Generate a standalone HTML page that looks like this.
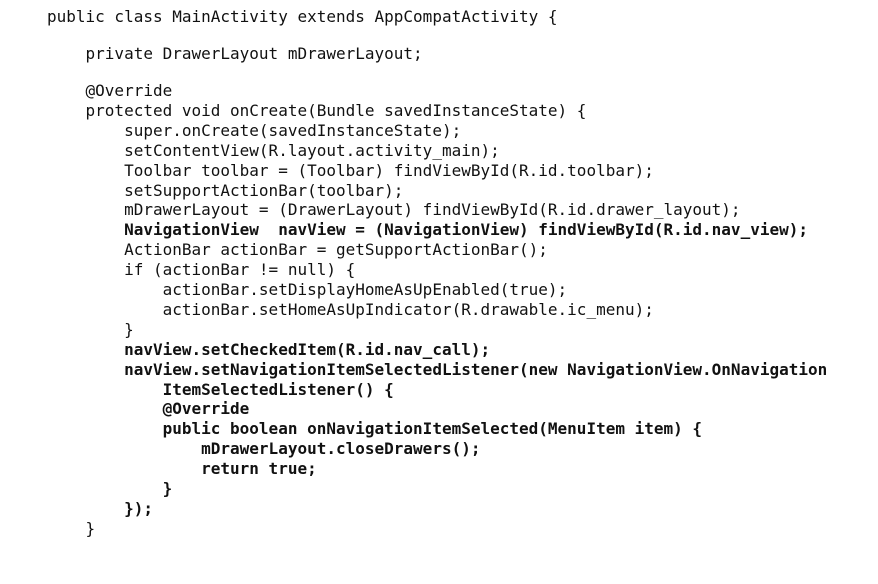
<!DOCTYPE html>
<html><head><meta charset="utf-8"><style>
html,body{margin:0;padding:0;background:#fff;width:878px;height:584px;overflow:hidden}
.l{position:absolute;left:47px;font-family:"DejaVu Sans Mono","Liberation Mono",monospace;font-size:16px;line-height:20px;height:20px;color:#111;white-space:pre}
b{font-weight:bold}
</style></head><body>
<div class="l" style="top:7px">public class MainActivity extends AppCompatActivity {</div>
<div class="l" style="top:44px">    private DrawerLayout mDrawerLayout;</div>
<div class="l" style="top:81px">    @Override</div>
<div class="l" style="top:100.9px">    protected void onCreate(Bundle savedInstanceState) {</div>
<div class="l" style="top:120.8px">        super.onCreate(savedInstanceState);</div>
<div class="l" style="top:140.7px">        setContentView(R.layout.activity_main);</div>
<div class="l" style="top:160.6px">        Toolbar toolbar = (Toolbar) findViewById(R.id.toolbar);</div>
<div class="l" style="top:180.5px">        setSupportActionBar(toolbar);</div>
<div class="l" style="top:200.4px">        mDrawerLayout = (DrawerLayout) findViewById(R.id.drawer_layout);</div>
<div class="l" style="top:220.3px">        <b>NavigationView  navView = (NavigationView) findViewById(R.id.nav_view);</b></div>
<div class="l" style="top:240.2px">        ActionBar actionBar = getSupportActionBar();</div>
<div class="l" style="top:260.1px">        if (actionBar != null) {</div>
<div class="l" style="top:280px">            actionBar.setDisplayHomeAsUpEnabled(true);</div>
<div class="l" style="top:299.9px">            actionBar.setHomeAsUpIndicator(R.drawable.ic_menu);</div>
<div class="l" style="top:319.8px">        }</div>
<div class="l" style="top:339.7px">        <b>navView.setCheckedItem(R.id.nav_call);</b></div>
<div class="l" style="top:359.6px">        <b>navView.setNavigationItemSelectedListener(new NavigationView.OnNavigation</b></div>
<div class="l" style="top:379.5px">            <b>ItemSelectedListener() {</b></div>
<div class="l" style="top:399.4px">            <b>@Override</b></div>
<div class="l" style="top:419.3px">            <b>public boolean onNavigationItemSelected(MenuItem item) {</b></div>
<div class="l" style="top:439.2px">                <b>mDrawerLayout.closeDrawers();</b></div>
<div class="l" style="top:459.1px">                <b>return true;</b></div>
<div class="l" style="top:479px">            <b>}</b></div>
<div class="l" style="top:498.9px">        <b>});</b></div>
<div class="l" style="top:518.8px">    }</div>
</body></html>
